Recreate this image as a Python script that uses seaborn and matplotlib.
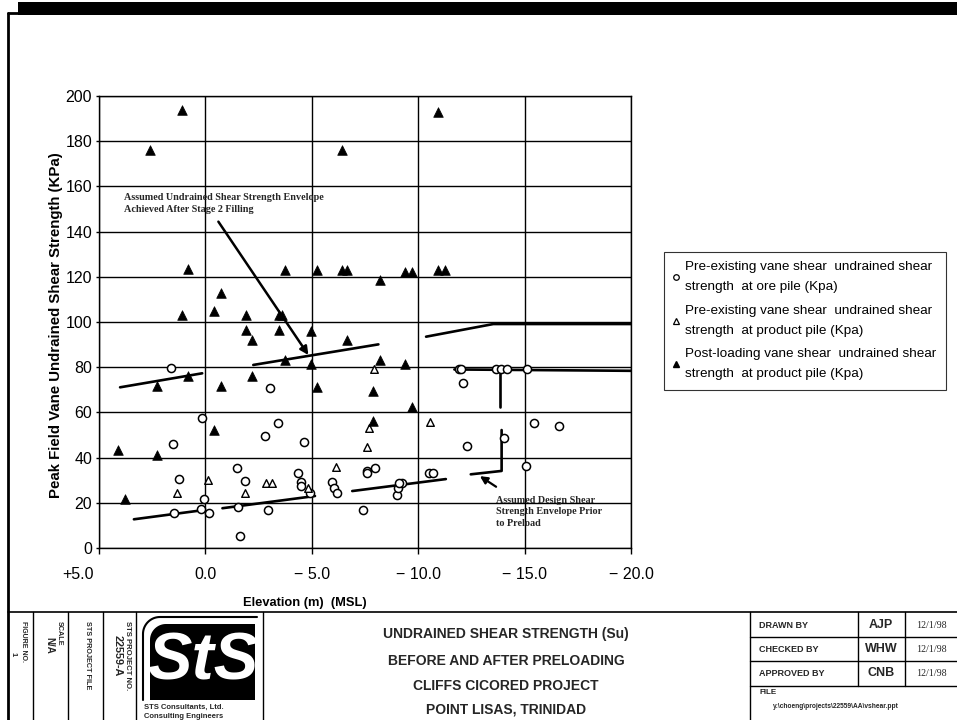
import numpy as np
import pandas as pd
import matplotlib
matplotlib.use("Agg")
import matplotlib.pyplot as plt
import matplotlib.transforms as mtransforms
import seaborn as sns
from matplotlib.lines import Line2D
from matplotlib.patches import Rectangle, Polygon

# ---------------- data ----------------
# Pre-existing vane shear, ore pile (open circles)
ore_elev = [1.62, 1.54, 1.23, 1.48, 0.15, 0.07, 0.22, -0.18, -1.47, -1.88, -1.52, -1.63,
            -3.05, -2.80, -3.43, -2.94, -4.65, -4.34, -4.48, -4.48, -4.92, -5.96, -6.04,
            -6.20, -7.42, -7.58, -7.58, -7.99, -8.99, -9.07, -9.25, -9.10, -10.52, -10.71,
            -11.90, -12.00, -12.12, -12.31, -13.66, -13.88, -14.19, -15.10, -14.05, -15.46,
            -16.60, -15.07]
ore_su = [79.8, 45.9, 30.5, 15.6, 57.4, 21.5, 17.3, 15.6, 35.5, 29.5, 18.0, 5.3,
          70.7, 49.6, 55.5, 16.8, 47.0, 33.0, 29.3, 27.4, 24.2, 29.3, 26.4,
          24.2, 16.8, 34.2, 33.2, 35.2, 23.5, 26.4, 28.9, 28.9, 33.0, 33.0,
          79.2, 79.2, 73.1, 45.1, 79.0, 79.0, 79.0, 79.0, 48.8, 55.2,
          54.0, 36.4]

# Pre-existing vane shear, product pile (open triangles)
pre_elev = [1.35, -0.14, -1.86, -2.83, -3.13, -4.84, -6.14, -7.58, -7.70, -7.92, -10.55]
pre_su = [24.2, 30.1, 24.2, 28.9, 28.9, 26.4, 36.0, 44.8, 53.0, 79.0, 55.9]

# Post-loading vane shear, product pile (filled triangles)
post_elev = [2.60, 1.10, -6.40, -10.94, 0.80, -3.76, -5.23, -6.40, -6.67, -8.20, -9.38,
             -9.69, -10.94, -11.26, -0.72, -0.40, 1.10, -1.91, -1.91, -2.20, -3.44,
             -3.60, -3.44, -4.95, -6.67, -3.75, -4.95, -8.20, -9.38, -2.18, 0.80, 2.29,
             -0.72, -5.23, -7.89, -9.69, -7.89, -0.40, 4.09, 2.29, 3.78]
post_su = [176.0, 194.0, 176.0, 193.0, 123.3, 123.0, 123.0, 123.0, 123.0, 118.6, 122.3,
           122.3, 123.0, 123.0, 112.7, 105.0, 103.0, 103.0, 96.5, 92.0, 103.0,
           103.0, 96.5, 96.2, 92.0, 83.2, 81.4, 83.2, 81.4, 76.1, 76.1, 71.7,
           71.7, 71.4, 69.6, 62.5, 56.3, 52.2, 43.4, 41.2, 21.5]

# Envelope segments (segment id, elevation, strength)
env_seg = ["A", "A", "B", "B", "C", "C", "C", "D", "D", "E", "E", "F", "F",
           "G", "G", "G", "H", "H", "I", "I"]
env_elev = [4.01, 0.15, -2.25, -8.13, -10.37, -13.53, -20.0, 3.36, 0.07, -0.80, -5.15,
            -6.90, -11.30, -12.47, -13.92, -13.92, -13.85, -13.85, -11.70, -20.0]
env_su = [71.1, 77.3, 81.0, 90.1, 93.5, 99.1, 99.1, 12.7, 16.8, 17.6, 23.0,
          25.2, 30.5, 32.6, 34.1, 52.2, 62.3, 78.8, 79.0, 78.4]

x_ticks = [5, 0, -5, -10, -15, -20]
x_tick_labels = ["+5.0", "0.0", "\u2212 5.0", "\u2212 10.0", "\u2212 15.0", "\u2212 20.0"]
y_ticks = [0, 20, 40, 60, 80, 100, 120, 140, 160, 180, 200]

legend_labels = [
    "Pre-existing vane shear  undrained shear\nstrength  at ore pile (Kpa)",
    "Pre-existing vane shear  undrained shear\nstrength  at product pile (Kpa)",
    "Post-loading vane shear  undrained shear\nstrength  at product pile (Kpa)",
]

# ---------------- figure ----------------
sns.set_theme(style="white")
plt.rcParams["font.family"] = ["Liberation Sans", "DejaVu Sans"]
plt.rcParams["axes.edgecolor"] = "black"

W, H = 957, 720
fig = plt.figure(figsize=(W / 100, H / 100), dpi=100)
fig.patch.set_facecolor("white")

# background layer for frame / title block (pixel coordinates)
bg = fig.add_axes([0, 0, 1, 1], zorder=-5)
bg.set_xlim(0, W)
bg.set_ylim(H, 0)
bg.axis("off")

ax = fig.add_axes([99 / W, 1 - 548 / H, 532 / W, 452 / H], zorder=2)
ax.set_facecolor("white")

df_ore = pd.DataFrame({"elev": ore_elev, "su": ore_su})
df_pre = pd.DataFrame({"elev": pre_elev, "su": pre_su})
df_post = pd.DataFrame({"elev": post_elev, "su": post_su})
df_env = pd.DataFrame({"seg": env_seg, "elev": env_elev, "su": env_su})

sns.lineplot(data=df_env, x="elev", y="su", units="seg", estimator=None, sort=False,
             color="black", linewidth=1.9, ax=ax, zorder=3, legend=False)
sns.scatterplot(data=df_ore, x="elev", y="su", marker="o", s=34, color="white",
                edgecolor="black", linewidth=1.1, ax=ax, zorder=4, legend=False)
sns.scatterplot(data=df_pre, x="elev", y="su", marker="^", s=30, color="white",
                edgecolor="black", linewidth=1.0, ax=ax, zorder=4, legend=False)
sns.scatterplot(data=df_post, x="elev", y="su", marker="^", s=48, color="black",
                edgecolor="black", linewidth=0.5, ax=ax, zorder=5, legend=False)

ax.set_xlim(5, -20)
ax.set_ylim(0, 200)
ax.set_xticks(x_ticks)
ax.set_xticklabels(x_tick_labels)
ax.set_yticks(y_ticks)
ax.grid(True, color="black", linewidth=1.0)
ax.set_axisbelow(True)
for sp in ax.spines.values():
    sp.set_color("black")
    sp.set_linewidth(1.0)
ax.tick_params(axis="x", direction="out", length=4, width=1, pad=10, labelsize=11.5,
               colors="black", bottom=True)
ax.tick_params(axis="y", direction="out", length=2, width=1, pad=3, labelsize=11.5,
               colors="black", left=True)
# the "+5.0" label sits left of its tick in the original
first = ax.get_xticklabels()[0]
first.set_transform(first.get_transform() +
                    mtransforms.ScaledTranslation(-0.21, 0, fig.dpi_scale_trans))

ax.set_xlabel("Elevation (m)  (MSL)", fontsize=9.3, fontweight="bold", color="black")
ax.xaxis.set_label_coords(0.387, -0.108)
ax.set_ylabel("Peak Field Vane Undrained Shear Strength (KPa)", fontsize=10.8,
              fontweight="bold", color="black")
ax.yaxis.set_label_coords(-0.068, 0.494)

# annotations
serif = ["Liberation Serif", "DejaVu Serif"]
ax.text(3.83, 157, "Assumed Undrained Shear Strength Envelope\nAchieved After Stage 2 Filling",
        family=serif, fontsize=7.3, fontweight="bold", va="top", ha="left",
        linespacing=1.35, zorder=6)
ax.annotate("", xy=(-4.84, 85.4), xytext=(-0.61, 144.4),
            arrowprops=dict(arrowstyle="-|>", color="black", lw=1.8, mutation_scale=12,
                            shrinkA=0, shrinkB=0), zorder=6)
ax.text(-13.66, 23.0, "Assumed Design Shear\nStrength Envelope Prior\nto Preload",
        family=serif, fontsize=7.3, fontweight="bold", va="top", ha="left",
        linespacing=1.35, zorder=6)
ax.annotate("", xy=(-12.9, 31.8), xytext=(-13.66, 27.1),
            arrowprops=dict(arrowstyle="-|>", color="black", lw=1.6, mutation_scale=11,
                            shrinkA=0, shrinkB=0), zorder=6)

# legend
handles = [
    Line2D([], [], ls="", marker="o", ms=4, mfc="white", mec="black", mew=0.9),
    Line2D([], [], ls="", marker="^", ms=4, mfc="white", mec="black", mew=0.9),
    Line2D([], [], ls="", marker="^", ms=4.5, mfc="black", mec="black"),
]
leg = ax.legend(handles, legend_labels, loc="upper left",
                bbox_to_anchor=(664 / W, 1 - 252 / H), bbox_transform=fig.transFigure,
                frameon=True, fancybox=False, edgecolor="black", fontsize=9.7,
                handlelength=0.4, handletextpad=0.45, borderpad=0.7, labelspacing=0.85,
                borderaxespad=0)
leg.get_frame().set_linewidth(0.8)
for t in leg.get_texts():
    t.set_linespacing(1.88)
    t.set_color("black")

# ---------------- frame & title block ----------------
K = "black"
bg.add_patch(Rectangle((18, 2), W - 18, 13, color=K, lw=0))
bg.plot([8, 8], [13, H], color=K, lw=2)
bg.plot([8, W], [13, 13], color=K, lw=2)
bg.plot([8, W], [612, 612], color=K, lw=1.2)
for xv in [33, 68, 103, 136, 263]:
    bg.plot([xv, xv], [612, H], color=K, lw=1.0)
# right table
bg.plot([750, 750], [612, H], color=K, lw=1.0)
for yv in [637, 661, 686]:
    bg.plot([750, W], [yv, yv], color=K, lw=1.0)
for xv in [858, 905]:
    bg.plot([xv, xv], [612, 686], color=K, lw=1.0)

rows = [("DRAWN BY", "AJP", 625), ("CHECKED BY", "WHW", 649), ("APPROVED BY", "CNB", 673)]
for lab, ini, yc in rows:
    bg.text(759, yc, lab, fontsize=6.5, fontweight="bold", va="center", ha="left")
    bg.text(881, yc, ini, fontsize=9, fontweight="bold", va="center", ha="center")
    bg.text(931, yc, "12/1/98", family=serif, fontsize=7.2, va="center", ha="center")
bg.text(759, 693, "FILE", fontsize=5.8, fontweight="bold", va="center", ha="left")
bg.text(773, 707, "y:\\choeng\\projects\\22559\\AA\\vshear.ppt", fontsize=4.8,
        fontweight="bold", va="center", ha="left")

# title
for txt, yc in [("UNDRAINED SHEAR STRENGTH (Su)", 634), ("BEFORE AND AFTER PRELOADING", 661),
                ("CLIFFS CICORED PROJECT", 686), ("POINT LISAS, TRINIDAD", 709)]:
    bg.text(506, yc, txt, fontsize=10, fontweight="bold", va="center", ha="center")

# rotated left column texts
def vtext(x, y, s, size, ha="left"):
    bg.text(x, y, s, fontsize=size, fontweight="bold", rotation=-90,
            rotation_mode="anchor", ha=ha, va="center")

vtext(23, 621, "FIGURE NO.", 5.0)
vtext(13, 652, "1", 5.5)
vtext(59, 621, "SCALE", 5.2)
vtext(49, 637, "N/A", 7.0)
vtext(87, 621, "STS PROJECT FILE", 5.2)
vtext(127, 621, "STS PROJECT NO.", 5.6)
vtext(118, 676, "22559-A", 7.8, ha="right")

# logo
t = np.linspace(np.pi, 1.5 * np.pi, 20)
r_in = 16
cx, cy = 150 + r_in, 624 + r_in
arc = np.column_stack([cx + r_in * np.cos(t), cy + r_in * np.sin(t)])
poly = np.vstack([[[255, 700], [150, 700]], arc, [[255, 624]]])
bg.add_patch(Polygon(poly, closed=True, color=K, lw=0))
r_out = 17
cx2, cy2 = 143 + r_out, 617 + r_out
arc2 = np.column_stack([cx2 + r_out * np.cos(t), cy2 + r_out * np.sin(t)])
outline = np.vstack([[[143, 700]], arc2, [[257, 617]]])
bg.plot(outline[:, 0], outline[:, 1], color=K, lw=1.5)
bg.text(203, 662, "StS", color="white", fontsize=48, fontweight="bold",
        fontstyle="italic", va="center", ha="center")
bg.text(144, 707, "STS Consultants, Ltd.", fontsize=5.5, fontweight="bold", va="center", ha="left")
bg.text(144, 716, "Consulting Engineers", fontsize=5.5, fontweight="bold", va="center", ha="left")

fig.savefig("out.png", dpi=100, facecolor="white")
